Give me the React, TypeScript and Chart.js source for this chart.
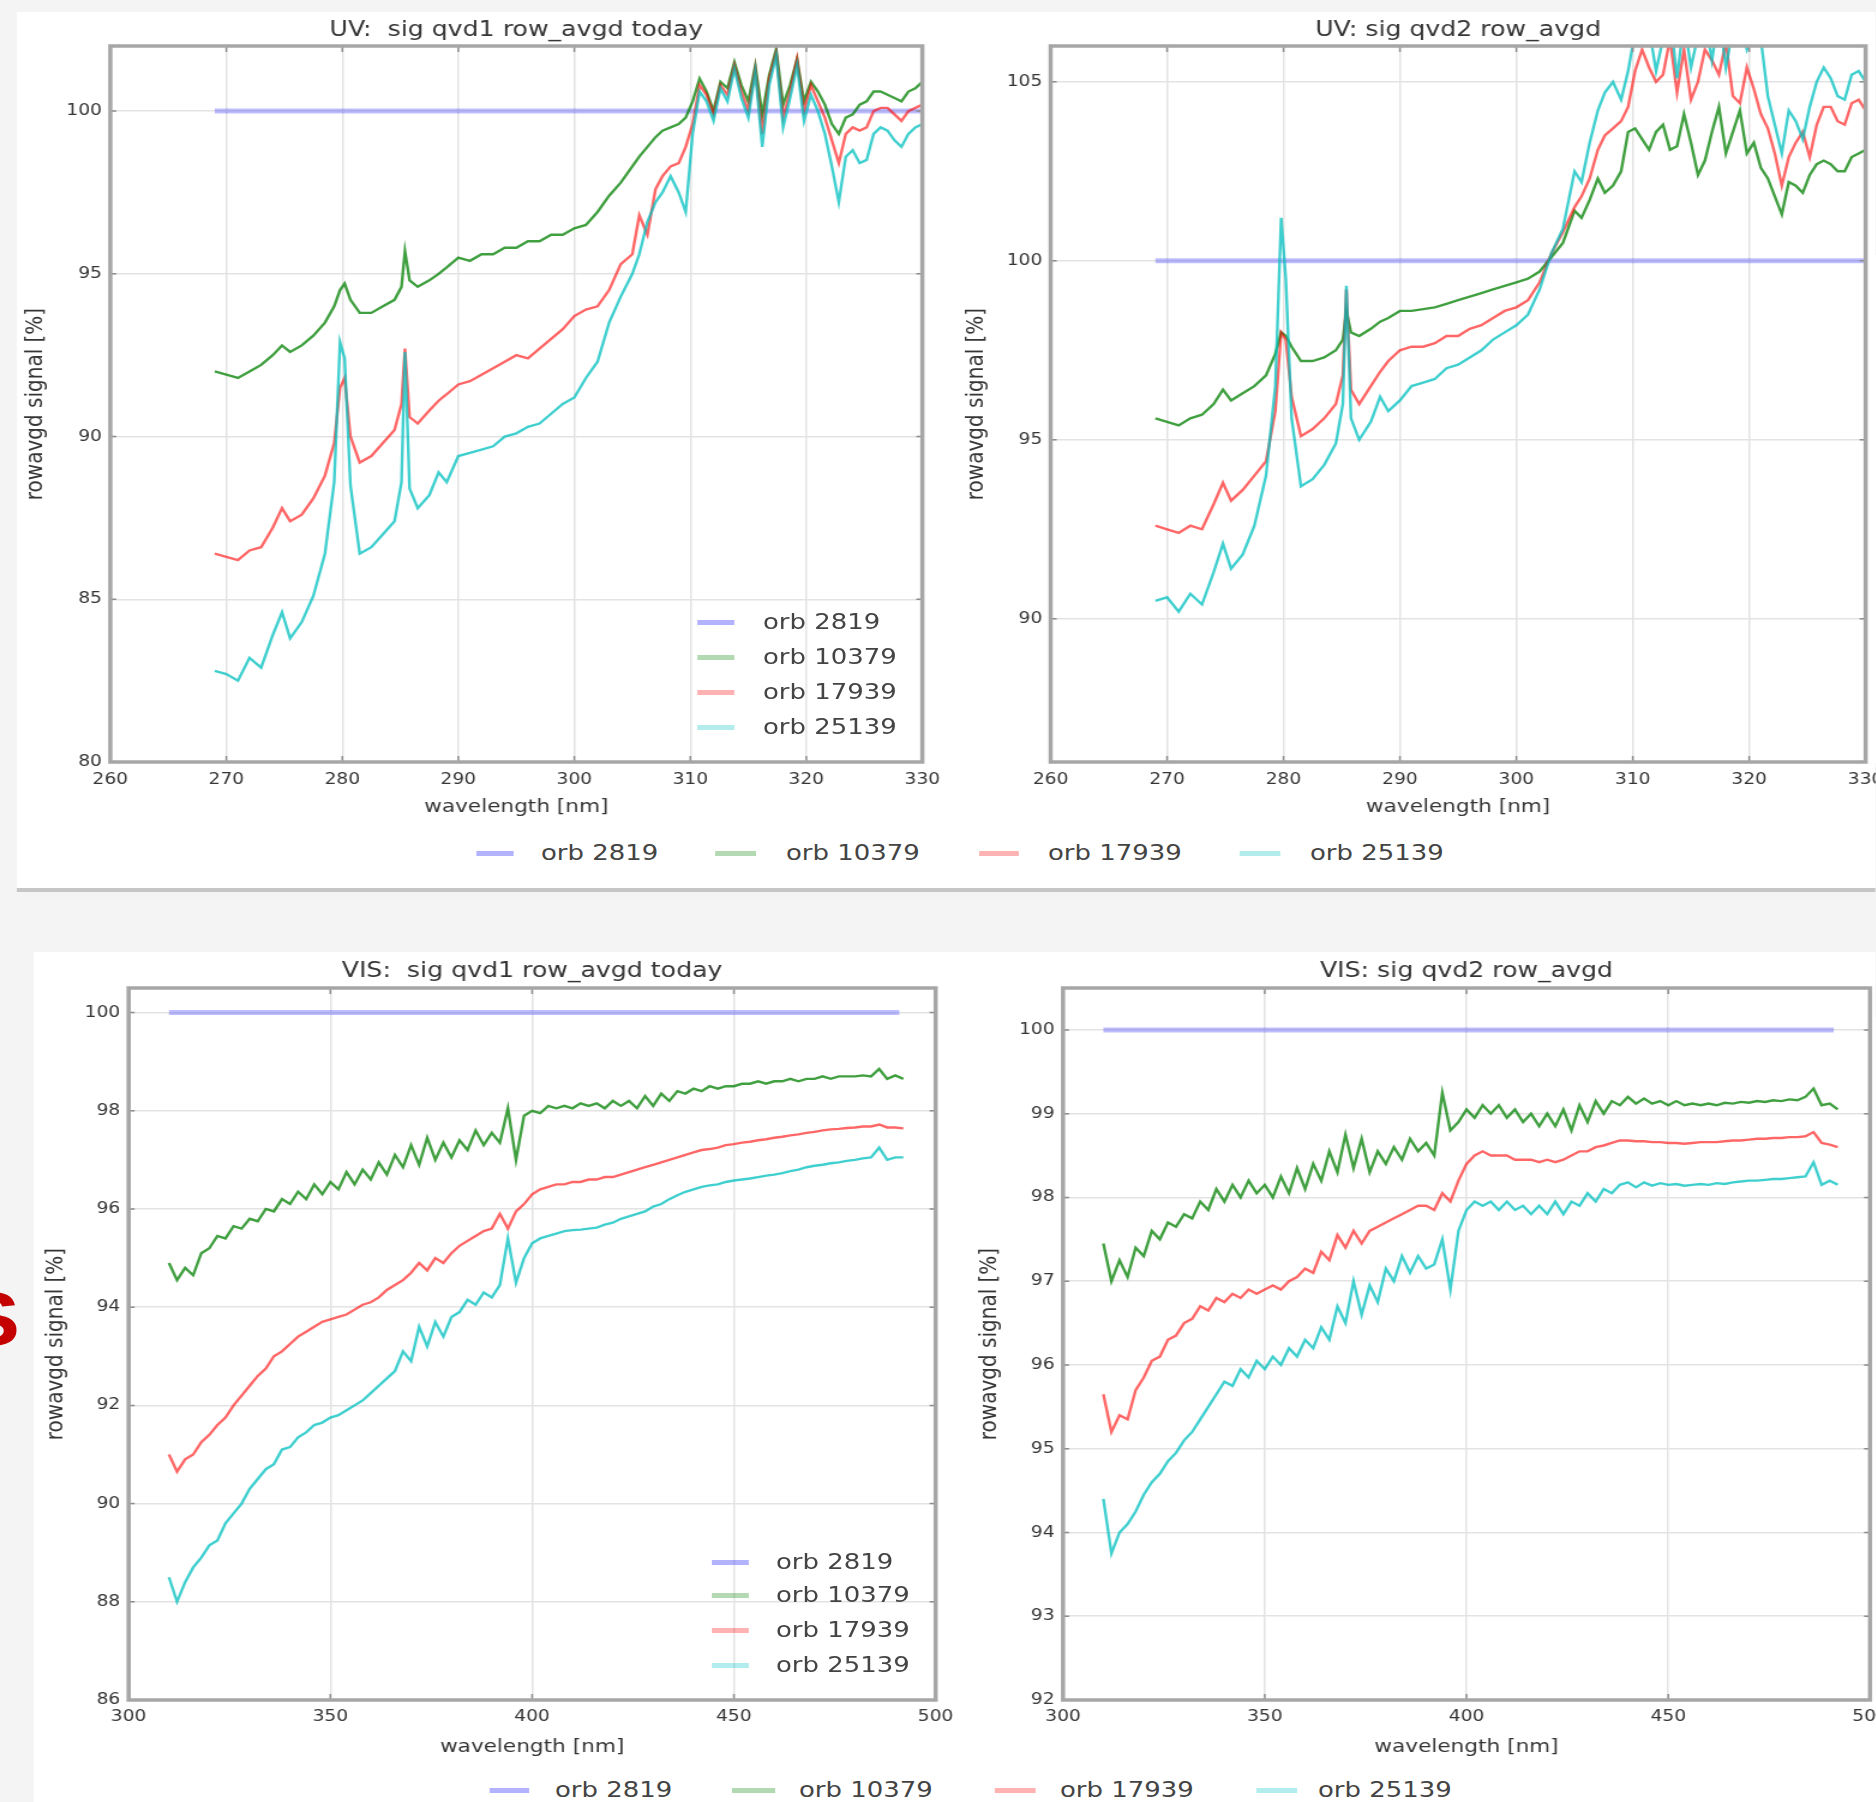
import React, { useEffect, useRef } from 'react';
import { Chart, registerables } from 'chart.js';

Chart.register(...registerables);

// ---------------------------------------------------------------- data
const SERIES_LABELS = ['orb 2819', 'orb 10379', 'orb 17939', 'orb 25139'];

const UV_X_TICKS = [260, 270, 280, 290, 300, 310, 320, 330];
const UV1_Y_TICKS = [80, 85, 90, 95, 100];
const UV2_Y_TICKS = [90, 95, 100, 105];
const VIS_X_TICKS = [300, 350, 400, 450, 500];
const VIS1_Y_TICKS = [86, 88, 90, 92, 94, 96, 98, 100];
const VIS2_Y_TICKS = [92, 93, 94, 95, 96, 97, 98, 99, 100];

const UV_REF_WL = [269, 330];
const UV_REF = [100, 100];
const VIS_REF_WL = [310, 491];
const VIS_REF = [100, 100];

const UV_WL = [
  269, 270, 271, 272, 273, 274,
  274.8, 275.5, 276.5, 277.5, 278.5,
  279.3, 279.8, 280.2, 280.7,
  281.5, 282.5, 283.5, 284.5,
  285.1, 285.4, 285.8,
  286.5, 287.5, 288.3,
  289, 290, 291, 292, 293, 294, 295, 296, 297, 298, 299, 300, 301, 302, 303, 304, 305,
  305.6, 306.3, 307, 307.6, 308.3, 309, 309.6,
  310.2, 310.8, 311.4, 312, 312.6, 313.2, 313.8, 314.4, 315, 315.6, 316.2, 316.8, 317.4, 318, 318.6, 319.2, 319.8,
  320.4, 321, 321.6, 322.2, 322.8, 323.4, 324, 324.6, 325.2, 325.8, 326.4, 327, 327.6, 328.2, 328.8, 329.4, 330,
];

const UV1_ORB10379 = [
  92.0, 91.9, 91.8, 92.0, 92.2, 92.5,
  92.8, 92.6, 92.8, 93.1, 93.5,
  94.0, 94.5, 94.7, 94.2,
  93.8, 93.8, 94.0, 94.2,
  94.6, 95.7, 94.8,
  94.6, 94.8, 95.0,
  95.2, 95.5, 95.4, 95.6, 95.6, 95.8, 95.8, 96.0, 96.0, 96.2, 96.2, 96.4, 96.5, 96.9, 97.4, 97.8, 98.3,
  98.6, 98.9, 99.2, 99.4, 99.5, 99.6, 99.8,
  100.3, 101.0, 100.6, 100.0, 100.9, 100.7, 101.5, 100.8, 100.3, 101.4, 99.9, 101.1, 101.9, 100.2, 100.8, 101.6, 100.3,
  100.9, 100.6, 100.2, 99.6, 99.3, 99.8, 99.9, 100.2, 100.3, 100.6, 100.6, 100.5, 100.4, 100.3, 100.6, 100.7, 100.9,
];
const UV1_ORB17939 = [
  86.4, 86.3, 86.2, 86.5, 86.6, 87.2,
  87.8, 87.4, 87.6, 88.1, 88.8,
  89.8, 91.5, 91.8, 90.0,
  89.2, 89.4, 89.8, 90.2,
  91.0, 92.7, 90.6,
  90.4, 90.8, 91.1,
  91.3, 91.6, 91.7, 91.9, 92.1, 92.3, 92.5, 92.4, 92.7, 93.0, 93.3, 93.7, 93.9, 94.0, 94.5, 95.3, 95.6,
  96.8, 96.2, 97.6, 98.0, 98.3, 98.4, 98.9,
  99.6, 100.8, 100.5, 99.9, 100.8, 100.5, 101.4, 100.6, 100.0, 101.3, 99.3, 101.0, 101.8, 99.8, 100.6, 101.6, 100.0,
  100.8, 100.3, 99.8, 99.1, 98.4, 99.3, 99.5, 99.4, 99.5, 100.0, 100.1, 100.1, 99.9, 99.7, 100.0, 100.1, 100.2,
];
const UV1_ORB25139 = [
  82.8, 82.7, 82.5, 83.2, 82.9, 83.9,
  84.6, 83.8, 84.3, 85.1, 86.4,
  88.6, 92.9, 92.4, 88.5,
  86.4, 86.6, 87.0, 87.4,
  88.6, 92.6, 88.4,
  87.8, 88.2, 88.9,
  88.6, 89.4, 89.5, 89.6, 89.7, 90.0, 90.1, 90.3, 90.4, 90.7, 91.0, 91.2, 91.8, 92.3, 93.5, 94.3, 95.0,
  95.6, 96.6, 97.2, 97.5, 98.0, 97.5, 96.9,
  99.3, 100.6, 100.3, 99.7, 100.7, 100.3, 101.3, 100.4, 99.8, 101.2, 98.9, 100.8, 101.7, 99.5, 100.4, 101.4, 99.7,
  100.5, 100.0, 99.3, 98.3, 97.2, 98.6, 98.8, 98.4, 98.5, 99.3, 99.5, 99.4, 99.1, 98.9, 99.3, 99.5, 99.6,
];

const UV2_ORB10379 = [
  95.6, 95.5, 95.4, 95.6, 95.7, 96.0,
  96.4, 96.1, 96.3, 96.5, 96.8,
  97.4, 98.0, 97.9, 97.6,
  97.2, 97.2, 97.3, 97.5,
  97.8, 98.6, 98.0,
  97.9, 98.1, 98.3,
  98.4, 98.6, 98.6, 98.65, 98.7, 98.8, 98.9, 99.0, 99.1, 99.2, 99.3, 99.4, 99.5, 99.7, 100.1, 100.5, 101.4,
  101.2, 101.7, 102.3, 101.9, 102.1, 102.5, 103.6,
  103.7, 103.4, 103.1, 103.6, 103.8, 103.1, 103.2, 104.1, 103.3, 102.4, 102.8, 103.6, 104.3, 103.0, 103.6, 104.2, 103.0,
  103.3, 102.6, 102.3, 101.8, 101.3, 102.2, 102.1, 101.9, 102.4, 102.7, 102.8, 102.7, 102.5, 102.5, 102.9, 103.0, 103.1,
];
const UV2_ORB17939 = [
  92.6, 92.5, 92.4, 92.6, 92.5, 93.2,
  93.8, 93.3, 93.6, 94.0, 94.4,
  95.8, 98.0, 97.8, 96.2,
  95.1, 95.3, 95.6, 96.0,
  96.8, 99.2, 96.4,
  96.0, 96.5, 96.9,
  97.2, 97.5, 97.6, 97.6, 97.7, 97.9, 97.9, 98.1, 98.2, 98.4, 98.6, 98.7, 98.9, 99.4, 100.2, 100.8, 101.5,
  101.8, 102.3, 103.1, 103.5, 103.7, 103.9, 104.3,
  105.3, 105.9, 105.4, 105.0, 105.2, 106.2, 104.7, 105.9, 104.5, 105.0, 105.9, 105.6, 105.2, 106.1, 104.6, 104.4, 105.4,
  104.8, 104.1, 103.7, 103.0, 102.1, 102.9, 103.3, 103.6, 102.9, 103.8, 104.3, 104.3, 103.9, 103.8, 104.4, 104.5, 104.2,
];
const UV2_ORB25139 = [
  90.5, 90.6, 90.2, 90.7, 90.4, 91.3,
  92.1, 91.4, 91.8, 92.6, 94.0,
  96.5, 101.2, 99.5, 95.6,
  93.7, 93.9, 94.3, 94.9,
  96.0, 99.3, 95.6,
  95.0, 95.5, 96.2,
  95.8, 96.1, 96.5, 96.6, 96.7, 97.0, 97.1, 97.3, 97.5, 97.8, 98.0, 98.2, 98.5, 99.2, 100.2, 100.9, 102.5,
  102.2, 103.3, 104.2, 104.7, 105.0, 104.5, 105.3,
  106.4, 106.8, 106.5, 105.3, 106.2, 106.9, 105.1, 106.7, 105.4, 106.3, 106.8, 105.6, 106.9, 105.4, 106.5, 106.7, 105.9,
  106.4, 106.2, 104.6, 103.8, 103.0, 104.2, 103.9, 103.4, 104.3, 105.0, 105.4, 105.1, 104.6, 104.5, 105.2, 105.3, 105.0,
];

const VIS_WL = [
  310, 312, 314, 316, 318, 320, 322, 324, 326, 328,
  330, 332, 334, 336, 338, 340, 342, 344, 346, 348,
  350, 352, 354, 356, 358, 360, 362, 364, 366, 368,
  370, 372, 374, 376, 378, 380, 382, 384, 386, 388,
  390, 392, 394, 396, 398, 400, 402, 404, 406, 408,
  410, 412, 414, 416, 418, 420, 422, 424, 426, 428,
  430, 432, 434, 436, 438, 440, 442, 444, 446, 448,
  450, 452, 454, 456, 458, 460, 462, 464, 466, 468,
  470, 472, 474, 476, 478, 480, 482, 484, 486, 488,
  490, 492,
];

const VIS1_ORB10379 = [
  94.9, 94.55, 94.8, 94.65, 95.1, 95.2, 95.45, 95.4, 95.65, 95.6,
  95.8, 95.75, 96.0, 95.95, 96.2, 96.1, 96.35, 96.2, 96.5, 96.3,
  96.55, 96.4, 96.75, 96.5, 96.8, 96.6, 96.95, 96.7, 97.1, 96.85,
  97.3, 96.9, 97.45, 97.0, 97.35, 97.05, 97.4, 97.2, 97.6, 97.3,
  97.55, 97.35, 98.05, 97.0, 97.9, 98.0, 97.95, 98.1, 98.05, 98.1,
  98.05, 98.15, 98.1, 98.15, 98.05, 98.2, 98.1, 98.2, 98.05, 98.3,
  98.1, 98.35, 98.2, 98.4, 98.35, 98.45, 98.4, 98.5, 98.45, 98.5,
  98.5, 98.55, 98.55, 98.6, 98.55, 98.6, 98.6, 98.65, 98.6, 98.65,
  98.65, 98.7, 98.65, 98.7, 98.7, 98.7, 98.72, 98.7, 98.85, 98.65,
  98.72, 98.65,
];
const VIS1_ORB17939 = [
  91.0, 90.65, 90.9, 91.0, 91.25, 91.4, 91.6, 91.75, 92.0, 92.2,
  92.4, 92.6, 92.75, 93.0, 93.1, 93.25, 93.4, 93.5, 93.6, 93.7,
  93.75, 93.8, 93.85, 93.95, 94.05, 94.1, 94.2, 94.35, 94.45, 94.55,
  94.7, 94.9, 94.75, 95.0, 94.9, 95.1, 95.25, 95.35, 95.45, 95.55,
  95.6, 95.9, 95.6, 95.95, 96.1, 96.3, 96.4, 96.45, 96.5, 96.5,
  96.55, 96.55, 96.6, 96.6, 96.65, 96.65, 96.7, 96.75, 96.8, 96.85,
  96.9, 96.95, 97.0, 97.05, 97.1, 97.15, 97.2, 97.22, 97.25, 97.3,
  97.32, 97.35, 97.37, 97.4, 97.42, 97.45, 97.47, 97.5, 97.52, 97.55,
  97.57, 97.6, 97.62, 97.63, 97.65, 97.66, 97.68, 97.68, 97.72, 97.66,
  97.66, 97.64,
];
const VIS1_ORB25139 = [
  88.5, 88.0, 88.4, 88.7, 88.9, 89.15, 89.25, 89.6, 89.8, 90.0,
  90.3, 90.5, 90.7, 90.8, 91.1, 91.15, 91.35, 91.45, 91.6, 91.65,
  91.75, 91.8, 91.9, 92.0, 92.1, 92.25, 92.4, 92.55, 92.7, 93.1,
  92.9, 93.6, 93.2, 93.7, 93.4, 93.8, 93.9, 94.15, 94.05, 94.3,
  94.2, 94.45, 95.4, 94.5, 95.0, 95.3, 95.4, 95.45, 95.5, 95.55,
  95.57, 95.58, 95.6, 95.62, 95.68, 95.72, 95.8, 95.85, 95.9, 95.95,
  96.05, 96.1, 96.2, 96.28, 96.35, 96.4, 96.45, 96.48, 96.5, 96.55,
  96.58, 96.6, 96.62, 96.65, 96.68, 96.7, 96.73, 96.77, 96.8, 96.85,
  96.88, 96.9, 96.93, 96.95, 96.98, 97.0, 97.03, 97.05, 97.25, 97.0,
  97.05, 97.05,
];

const VIS2_ORB10379 = [
  97.45, 97.0, 97.25, 97.05, 97.4, 97.3, 97.6, 97.5, 97.7, 97.65,
  97.8, 97.75, 97.95, 97.85, 98.1, 97.95, 98.15, 98.0, 98.2, 98.05,
  98.15, 98.0, 98.25, 98.05, 98.35, 98.1, 98.4, 98.2, 98.55, 98.3,
  98.75, 98.35, 98.7, 98.3, 98.55, 98.4, 98.6, 98.45, 98.7, 98.55,
  98.65, 98.5, 99.25, 98.8, 98.9, 99.05, 98.95, 99.1, 99.0, 99.1,
  98.95, 99.05, 98.9, 99.0, 98.85, 99.0, 98.85, 99.05, 98.8, 99.1,
  98.9, 99.15, 99.0, 99.15, 99.1, 99.2, 99.12, 99.18, 99.12, 99.15,
  99.1, 99.15, 99.1, 99.12, 99.1, 99.12, 99.1, 99.13, 99.12, 99.14,
  99.13, 99.15, 99.14, 99.16, 99.15, 99.17, 99.16, 99.2, 99.3, 99.1,
  99.12, 99.05,
];
const VIS2_ORB17939 = [
  95.65, 95.2, 95.4, 95.35, 95.7, 95.85, 96.05, 96.1, 96.3, 96.35,
  96.5, 96.55, 96.7, 96.65, 96.8, 96.75, 96.85, 96.8, 96.9, 96.85,
  96.9, 96.95, 96.9, 97.0, 97.05, 97.15, 97.1, 97.35, 97.25, 97.55,
  97.4, 97.6, 97.45, 97.6, 97.65, 97.7, 97.75, 97.8, 97.85, 97.9,
  97.9, 97.85, 98.05, 97.95, 98.2, 98.4, 98.5, 98.55, 98.5, 98.5,
  98.5, 98.45, 98.45, 98.45, 98.42, 98.45, 98.42, 98.45, 98.5, 98.55,
  98.55, 98.6, 98.62, 98.65, 98.68, 98.68, 98.67, 98.67, 98.66, 98.66,
  98.65, 98.65, 98.64, 98.65, 98.66, 98.66, 98.66, 98.67, 98.68, 98.68,
  98.69, 98.7, 98.7, 98.71, 98.71, 98.72, 98.72, 98.73, 98.78, 98.65,
  98.63, 98.6,
];
const VIS2_ORB25139 = [
  94.4, 93.75, 94.0, 94.1, 94.25, 94.45, 94.6, 94.7, 94.85, 94.95,
  95.1, 95.2, 95.35, 95.5, 95.65, 95.8, 95.75, 95.95, 95.85, 96.05,
  95.95, 96.1, 96.0, 96.2, 96.1, 96.3, 96.2, 96.45, 96.3, 96.7,
  96.5, 97.0, 96.6, 96.95, 96.75, 97.15, 97.0, 97.3, 97.1, 97.3,
  97.15, 97.2, 97.5, 96.9, 97.6, 97.85, 97.95, 97.9, 97.95, 97.85,
  97.95, 97.85, 97.9, 97.8, 97.9, 97.8, 97.95, 97.8, 97.95, 97.9,
  98.05, 97.95, 98.1, 98.05, 98.15, 98.18, 98.12, 98.18, 98.14, 98.17,
  98.15, 98.16, 98.14, 98.15, 98.16, 98.15, 98.17, 98.16, 98.18, 98.19,
  98.2, 98.2, 98.21, 98.22, 98.22, 98.23, 98.24, 98.25, 98.42, 98.15,
  98.2, 98.15,
];

// ---------------------------------------------------------------- styling / layout
const S = 1.2; // the reference figure is stretched horizontally
const FONT = "'DejaVu Sans', 'Liberation Sans', sans-serif";
const TEXT = '#353535';
const GRID = '#e3e3e3';
const LINE_COLORS = ['rgba(0,0,255,0.26)', 'rgba(0,128,0,0.75)', 'rgba(255,0,0,0.6)', 'rgba(0,191,191,0.75)'];
const HANDLE_COLORS = ['rgba(0,0,255,0.3)', 'rgba(0,128,0,0.3)', 'rgba(255,0,0,0.3)', 'rgba(0,191,191,0.3)'];
const TITLE_SIZE = 21;
const TICK_SIZE = 15.5;
const XLABEL_SIZE = 18;
const YLABEL_SIZE = 20;
const LEGEND_SIZE = 21.6;

interface PlotSpec {
  title: string;
  box: number[]; // x0, x1, y0, y1 (page px)
  area: number[]; // left, right, top, bottom of the axes (page px)
  titleY: number;
  yLabelX: number;
  xTickY: number;
  xLabelY: number;
  xRange: number[];
  xTicks: number[];
  yRange: number[];
  yTicks: number[];
  refWl: number[];
  ref: number[];
  wl: number[];
  series: number[][];
}

const PLOTS: PlotSpec[] = [
  {
    title: 'UV:  sig qvd1 row_avgd today', box: [17, 940, 12, 830], area: [110.5, 922.5, 46, 762],
    titleY: 31, yLabelX: 36, xTickY: 779.5, xLabelY: 807,
    xRange: [260, 330], xTicks: UV_X_TICKS, yRange: [80, 102], yTicks: UV1_Y_TICKS,
    refWl: UV_REF_WL, ref: UV_REF, wl: UV_WL, series: [UV1_ORB10379, UV1_ORB17939, UV1_ORB25139],
  },
  {
    title: 'UV: sig qvd2 row_avgd', box: [940, 1876, 12, 830], area: [1051, 1866, 46, 762],
    titleY: 31, yLabelX: 977, xTickY: 779.5, xLabelY: 807,
    xRange: [260, 330], xTicks: UV_X_TICKS, yRange: [86, 106], yTicks: UV2_Y_TICKS,
    refWl: UV_REF_WL, ref: UV_REF, wl: UV_WL, series: [UV2_ORB10379, UV2_ORB17939, UV2_ORB25139],
  },
  {
    title: 'VIS:  sig qvd1 row_avgd today', box: [33, 960, 952, 1768], area: [128, 935, 988, 1700],
    titleY: 972, yLabelX: 56, xTickY: 1716.5, xLabelY: 1747,
    xRange: [300, 500], xTicks: VIS_X_TICKS, yRange: [86, 100.5], yTicks: VIS1_Y_TICKS,
    refWl: VIS_REF_WL, ref: VIS_REF, wl: VIS_WL, series: [VIS1_ORB10379, VIS1_ORB17939, VIS1_ORB25139],
  },
  {
    title: 'VIS: sig qvd2 row_avgd', box: [960, 1876, 952, 1768], area: [1063, 1870, 988, 1700],
    titleY: 972, yLabelX: 989.5, xTickY: 1716.5, xLabelY: 1747,
    xRange: [300, 500], xTicks: VIS_X_TICKS, yRange: [92, 100.5], yTicks: VIS2_Y_TICKS,
    refWl: VIS_REF_WL, ref: VIS_REF, wl: VIS_WL, series: [VIS2_ORB10379, VIS2_ORB17939, VIS2_ORB25139],
  },
];

const INNER_LEGENDS = [
  { lineX: [697, 735], textX: 763, ys: [622, 657, 692, 727] },
  { lineX: [712, 749], textX: 776, ys: [1562, 1595, 1630, 1665] },
];
const FIGURE_LEGENDS = [
  { y: 853, items: [[476, 514, 541], [715, 756, 786], [979, 1019, 1048], [1240, 1280, 1310]] },
  { y: 1790, items: [[490, 529, 555], [732, 775, 799], [995, 1036, 1060], [1256, 1297, 1318]] },
];

const framePlugin = {
  id: 'mplFrame',
  afterDraw(chart: any) {
    const { ctx, chartArea: a, scales } = chart;
    ctx.save();
    ctx.strokeStyle = '#8c8c8c';
    ctx.lineWidth = 1.5;
    ctx.beginPath();
    for (const t of scales.x.ticks) {
      const px = scales.x.getPixelForValue(t.value);
      ctx.moveTo(px, a.bottom); ctx.lineTo(px, a.bottom - 6);
      ctx.moveTo(px, a.top); ctx.lineTo(px, a.top + 6);
    }
    for (const t of scales.y.ticks) {
      const py = scales.y.getPixelForValue(t.value);
      ctx.moveTo(a.left, py); ctx.lineTo(a.left + 5, py);
      ctx.moveTo(a.right, py); ctx.lineTo(a.right - 5, py);
    }
    ctx.stroke();
    ctx.strokeStyle = '#a6a6a6';
    ctx.lineWidth = 3.5;
    ctx.strokeRect(a.left, a.top, a.right - a.left, a.bottom - a.top);
    ctx.restore();
  },
};

function buildConfig(spec: PlotSpec, w: number, h: number): any {
  const [x0, , y0, y1] = spec.box;
  const [l, r, t, b] = spec.area;
  const tLH = TITLE_SIZE * 1.2;
  const titlePadTop = spec.titleY - y0 - tLH / 2;
  const titlePadBottom = t - y0 - tLH - titlePadTop;
  const yAxisW = (l - x0) / S;
  const padRight = w - (r - x0) / S;
  const xAxisH = y1 - b;
  const tickPad = spec.xTickY - b - (TICK_SIZE * 1.2) / 2;
  const xlPadBottom = y1 - spec.xLabelY - (XLABEL_SIZE * 1.2) / 2;
  const ylPadTop = (spec.yLabelX - x0) / S - (YLABEL_SIZE * 1.2) / 2;

  const datasets: any[] = [
    {
      label: SERIES_LABELS[0],
      data: spec.refWl.map((x, i) => ({ x, y: spec.ref[i] })),
      borderColor: LINE_COLORS[0],
      borderWidth: 5,
      order: 4,
    },
    ...spec.series.map((vals, k) => ({
      label: SERIES_LABELS[k + 1],
      data: spec.wl.map((x, i) => ({ x, y: vals[i] })),
      borderColor: LINE_COLORS[k + 1],
      borderWidth: 2.4,
      order: 3 - k,
    })),
  ];

  const tickFont = { family: FONT, size: TICK_SIZE };
  return {
    type: 'line',
    data: { datasets },
    options: {
      animation: false,
      responsive: false,
      devicePixelRatio: 1,
      events: [],
      elements: { point: { radius: 0 }, line: { tension: 0, borderCapStyle: 'butt' } },
      layout: { padding: { left: 0, top: 0, right: padRight, bottom: 0 } },
      plugins: {
        legend: { display: false },
        tooltip: { enabled: false },
        title: {
          display: true,
          text: spec.title,
          fullSize: false,
          color: TEXT,
          font: { family: FONT, size: TITLE_SIZE, weight: 'normal' },
          padding: { top: titlePadTop, bottom: titlePadBottom },
        },
      },
      scales: {
        x: {
          type: 'linear',
          min: spec.xRange[0],
          max: spec.xRange[1],
          afterBuildTicks: (s: any) => { s.ticks = spec.xTicks.map((v) => ({ value: v })); },
          afterFit: (s: any) => { s.height = xAxisH; s.paddingLeft = 0; s.paddingRight = 0; },
          grid: { color: GRID, lineWidth: 1.5, drawTicks: false },
          border: { display: false },
          ticks: { padding: tickPad, color: TEXT, font: tickFont, maxRotation: 0, autoSkip: false, callback: (v: any) => String(v) },
          title: {
            display: true, text: 'wavelength [nm]', color: TEXT,
            font: { family: FONT, size: XLABEL_SIZE }, padding: { top: 0, bottom: xlPadBottom },
          },
        },
        y: {
          type: 'linear',
          min: spec.yRange[0],
          max: spec.yRange[1],
          afterBuildTicks: (s: any) => { s.ticks = spec.yTicks.map((v) => ({ value: v })); },
          afterFit: (s: any) => { s.width = yAxisW; s.paddingTop = 0; s.paddingBottom = 0; },
          grid: { color: GRID, lineWidth: 1.5, drawTicks: false },
          border: { display: false },
          ticks: { padding: 7, color: TEXT, font: tickFont, autoSkip: false, callback: (v: any) => String(v) },
          title: {
            display: true, text: 'rowavgd signal [%]', color: TEXT,
            font: { family: FONT, size: YLABEL_SIZE }, padding: { top: ylPadTop, bottom: 0 },
          },
        },
      },
    },
    plugins: [framePlugin],
  };
}

function PlotCanvas({ spec }: { spec: PlotSpec }) {
  const ref = useRef<HTMLCanvasElement | null>(null);
  const [x0, x1, y0, y1] = spec.box;
  const w = Math.round((x1 - x0) / S);
  const h = y1 - y0;
  useEffect(() => {
    if (!ref.current) return;
    const chart = new Chart(ref.current, buildConfig(spec, w, h));
    return () => chart.destroy();
  }, []);
  return (
    <canvas
      ref={ref}
      width={w}
      height={h}
      style={{ position: 'absolute', left: x0 / S, top: y0, width: w, height: h, display: 'block' }}
    />
  );
}

function LegendEntry({ x0, x1, tx, y, k }: { x0: number; x1: number; tx: number; y: number; k: number }) {
  return (
    <>
      <div
        style={{
          position: 'absolute', left: x0 / S, width: (x1 - x0) / S, top: y - 2.5, height: 5,
          background: HANDLE_COLORS[k],
        }}
      />
      <div
        style={{
          position: 'absolute', left: tx / S, top: y - 0.581 * LEGEND_SIZE, fontFamily: FONT,
          fontSize: LEGEND_SIZE, lineHeight: 1.2, color: '#444', whiteSpace: 'nowrap',
        }}
      >
        {SERIES_LABELS[k]}
      </div>
    </>
  );
}

export default function App() {
  useEffect(() => {
    document.body.style.overflow = 'hidden';
  }, []);
  return (
    <div
      style={{
        position: 'absolute', left: 0, top: 0, width: 1876 / S, height: 1802, overflow: 'hidden',
        background: '#f4f4f4', transform: `scaleX(${S})`, transformOrigin: '0 0',
      }}
    >
      <div style={{ position: 'absolute', left: 17 / S, top: 12, width: (1876 - 17) / S, height: 876, background: '#fff' }} />
      <div style={{ position: 'absolute', left: 17 / S, top: 888, width: (1876 - 17) / S, height: 4, background: '#c6c6c6' }} />
      <div style={{ position: 'absolute', left: 33 / S, top: 952, width: (1876 - 33) / S, height: 850, background: '#fff' }} />
      <div
        style={{
          position: 'absolute', left: -34, top: 1281, fontFamily: "'Liberation Sans', Arial, sans-serif",
          fontWeight: 'bold', fontSize: 76, lineHeight: '76px', color: '#c40000', whiteSpace: 'nowrap',
        }}
      >
        S
      </div>
      {PLOTS.map((p, i) => (
        <PlotCanvas key={i} spec={p} />
      ))}
      {INNER_LEGENDS.map((lg, i) =>
        lg.ys.map((y, k) => (
          <LegendEntry key={`in${i}-${k}`} x0={lg.lineX[0]} x1={lg.lineX[1]} tx={lg.textX} y={y} k={k} />
        )),
      )}
      {FIGURE_LEGENDS.map((lg, i) =>
        lg.items.map((it, k) => (
          <LegendEntry key={`fig${i}-${k}`} x0={it[0]} x1={it[1]} tx={it[2]} y={lg.y} k={k} />
        )),
      )}
    </div>
  );
}
